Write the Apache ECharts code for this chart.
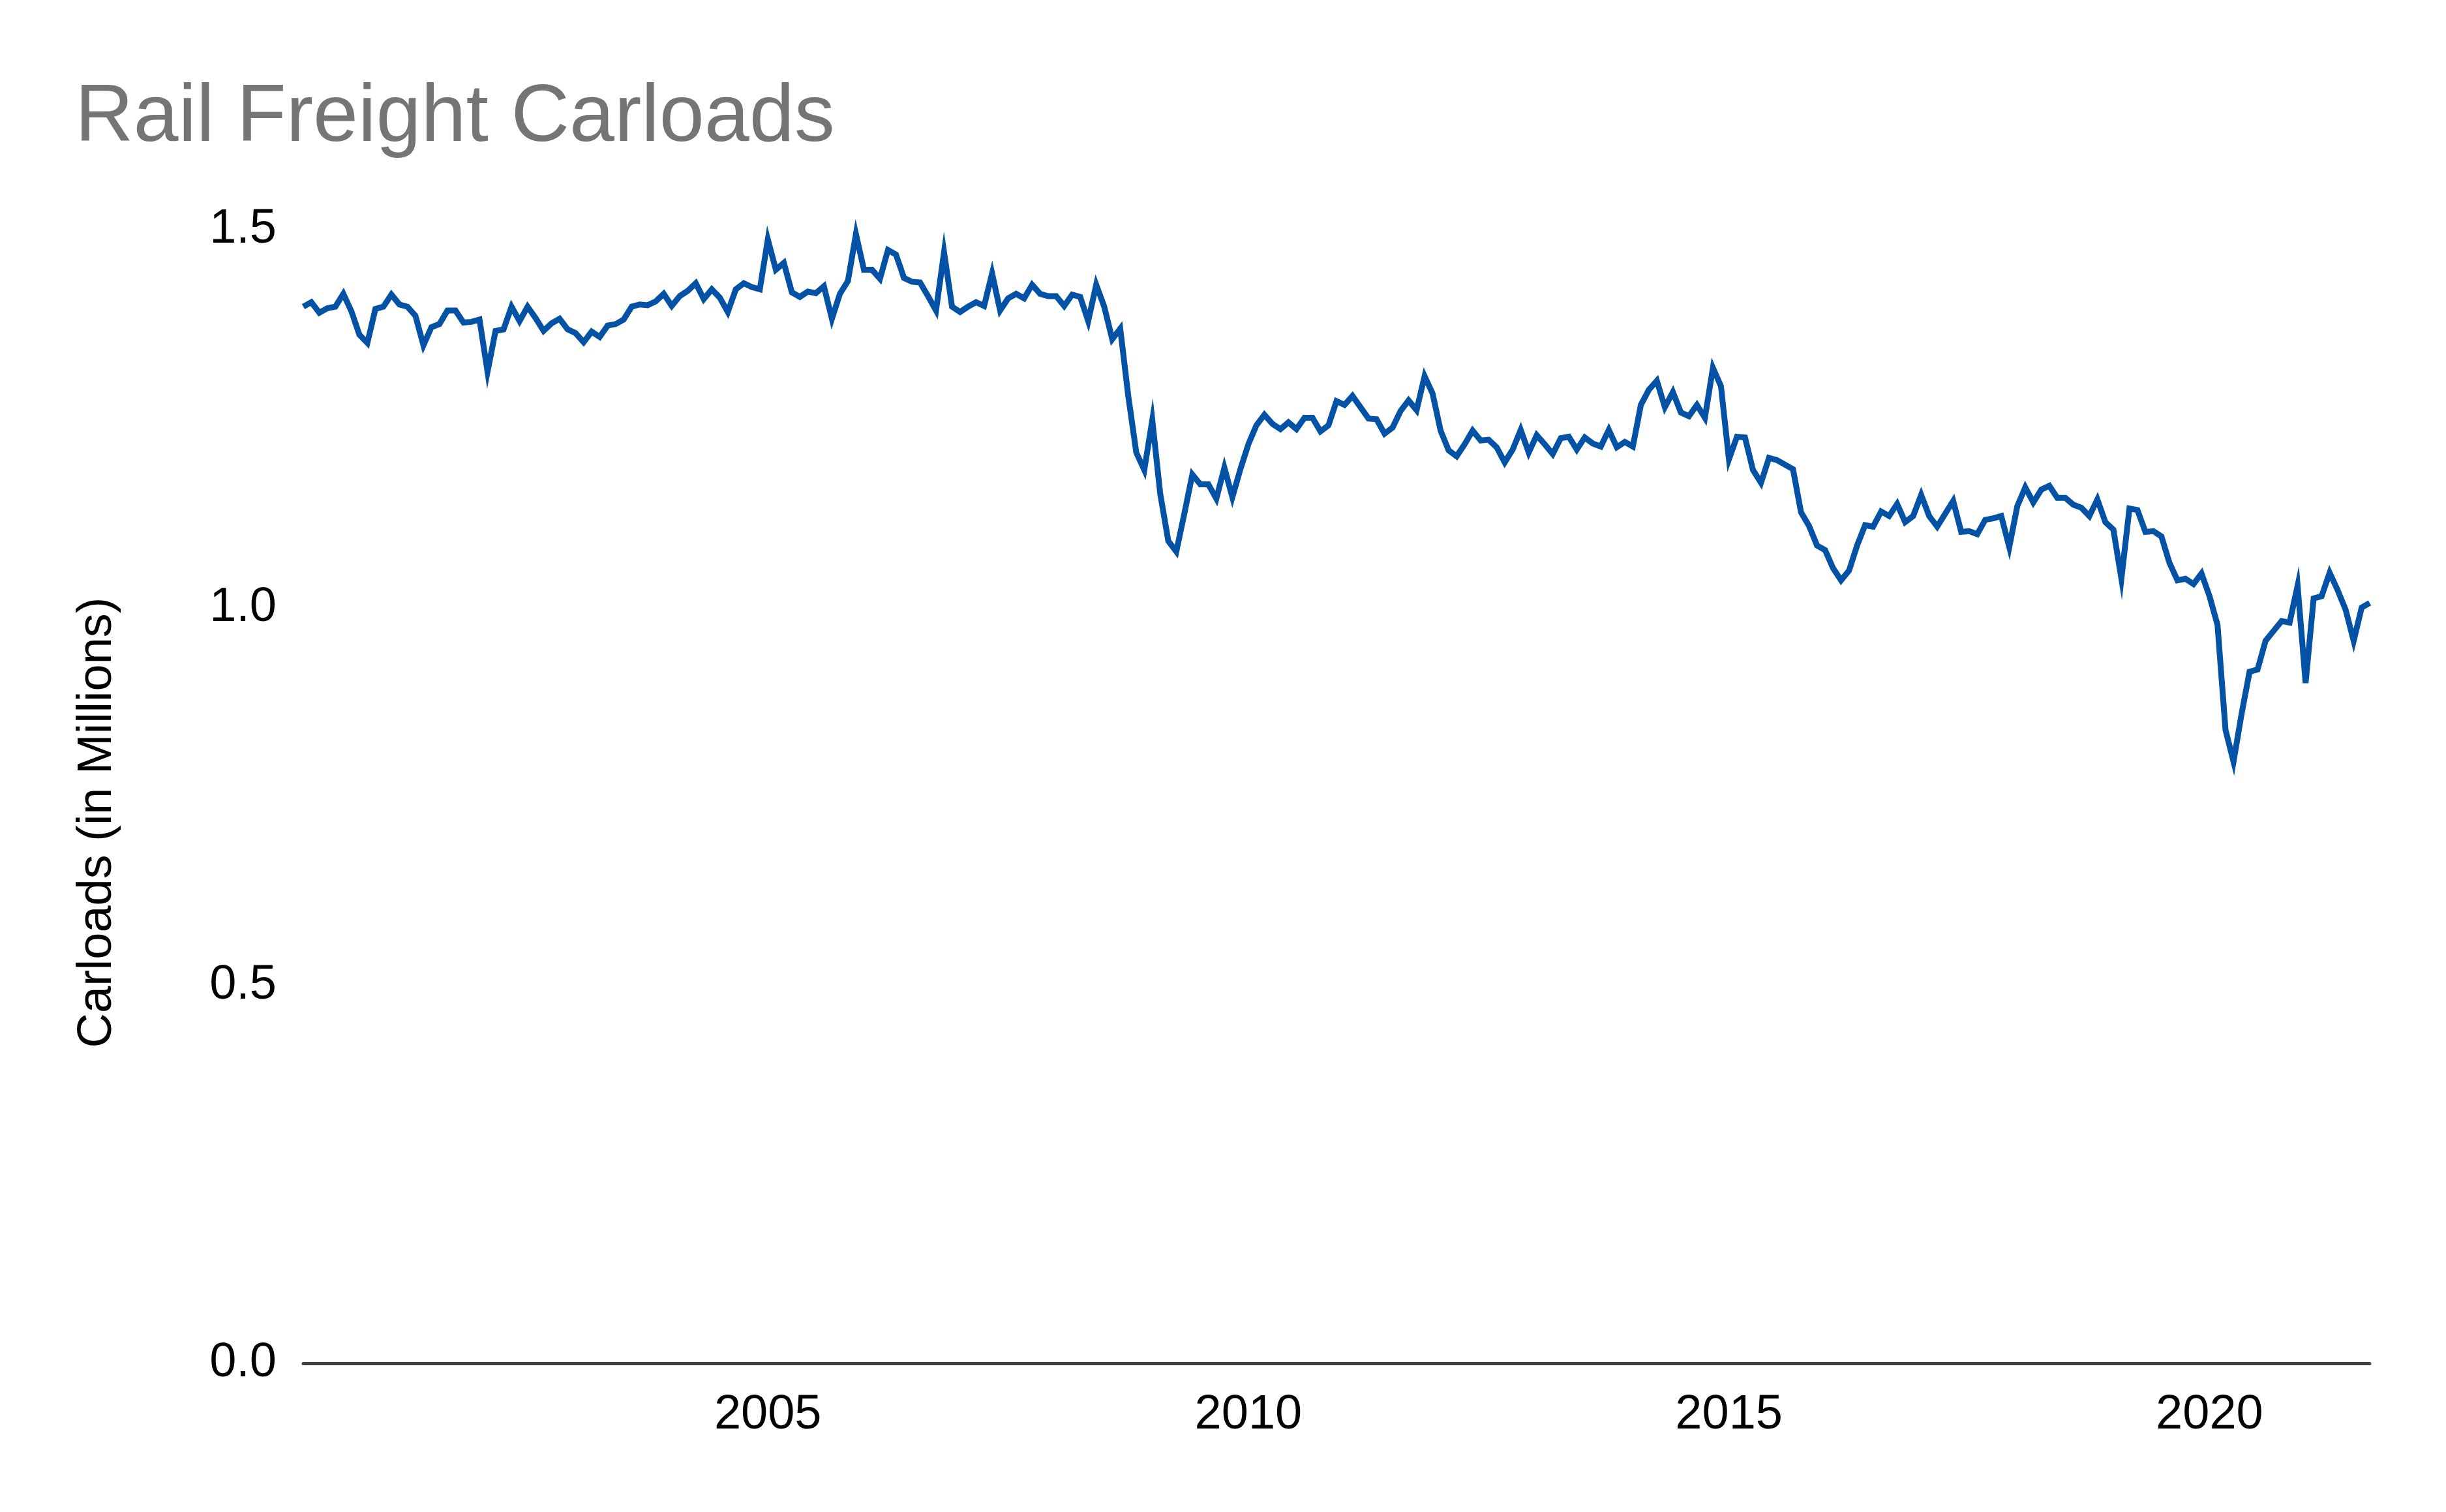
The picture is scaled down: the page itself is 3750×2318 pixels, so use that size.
<!DOCTYPE html>
<html>
<head>
<meta charset="utf-8">
<title>Rail Freight Carloads</title>
<script src="https://cdn.jsdelivr.net/npm/echarts@6.0.0/dist/echarts.min.js"></script>
<style>
	html, body { margin: 0; padding: 0; background: #fff; }
	#chart { width: 3750px; height: 2318px; }
</style>
</head>
<body>
<div id="chart"></div>
<script>
	// monthly series, first value is March 2000
	var startYear = 2000;
	var startMonth = 3;
	var carloads = [
		1.398, 1.404, 1.390, 1.396, 1.398, 1.415, 1.392, 1.361, 1.350, 1.395,
		1.398, 1.414, 1.401, 1.398, 1.386, 1.347, 1.371, 1.375, 1.393, 1.393,
		1.377, 1.378, 1.381, 1.312, 1.366, 1.368, 1.398, 1.379, 1.398, 1.383,
		1.366, 1.376, 1.382, 1.368, 1.363, 1.351, 1.365, 1.358, 1.373, 1.375,
		1.381, 1.398, 1.401, 1.400, 1.405, 1.415, 1.399, 1.412, 1.419, 1.429,
		1.408, 1.421, 1.410, 1.391, 1.421, 1.429, 1.424, 1.421, 1.487, 1.447,
		1.456, 1.417, 1.411, 1.418, 1.416, 1.425, 1.382, 1.415, 1.432, 1.494,
		1.447, 1.447, 1.435, 1.473, 1.467, 1.436, 1.431, 1.430, 1.412, 1.393,
		1.470, 1.398, 1.391, 1.398, 1.404, 1.399, 1.442, 1.393, 1.409, 1.415,
		1.409, 1.427, 1.415, 1.412, 1.412, 1.399, 1.414, 1.411, 1.379, 1.427,
		1.398, 1.355, 1.369, 1.280, 1.205, 1.182, 1.248, 1.150, 1.088, 1.074,
		1.124, 1.176, 1.163, 1.163, 1.144, 1.185, 1.146, 1.183, 1.216, 1.241,
		1.255, 1.243, 1.236, 1.245, 1.236, 1.251, 1.251, 1.233, 1.241, 1.273,
		1.268, 1.280, 1.265, 1.250, 1.249, 1.230, 1.238, 1.260, 1.274, 1.261,
		1.306, 1.283, 1.234, 1.208, 1.200, 1.216, 1.234, 1.221, 1.222, 1.212,
		1.192, 1.209, 1.235, 1.205, 1.228, 1.216, 1.203, 1.224, 1.226, 1.209,
		1.225, 1.217, 1.213, 1.235, 1.212, 1.219, 1.213, 1.268, 1.288, 1.300,
		1.265, 1.285, 1.258, 1.253, 1.268, 1.251, 1.317, 1.293, 1.196, 1.226,
		1.225, 1.182, 1.165, 1.198, 1.195, 1.189, 1.183, 1.126, 1.108, 1.082,
		1.076, 1.052, 1.036, 1.049, 1.082, 1.109, 1.107, 1.127, 1.121, 1.137,
		1.113, 1.121, 1.149, 1.121, 1.107, 1.124, 1.141, 1.100, 1.101, 1.097,
		1.116, 1.118, 1.121, 1.080, 1.134, 1.159, 1.139, 1.156, 1.161, 1.145,
		1.145, 1.136, 1.132, 1.121, 1.143, 1.113, 1.103, 1.038, 1.131, 1.129,
		1.100, 1.101, 1.094, 1.059, 1.036, 1.038, 1.031, 1.045, 1.015, 0.977,
		0.838, 0.796, 0.859, 0.915, 0.918, 0.956, 0.969, 0.982, 0.980, 1.029,
		0.900, 1.012, 1.015, 1.046, 1.023, 0.997, 0.956, 1.000, 1.006
	];
	var yearLabels = [2005, 2010, 2015, 2020];

	var font = "'Liberation Sans', Arial, sans-serif";

	// month index -> decimal year (January = .0)
	function monthYear(i) {
		return startYear + (startMonth - 1 + i) / 12;
	}

	var seriesData = [];
	for (var i = 0; i < carloads.length; i++) {
		seriesData.push([monthYear(i), carloads[i]]);
	}

	var myChart = echarts.init(document.getElementById('chart'));

	var option = {
		backgroundColor : '#ffffff',
		animation : false,
		title : {
			text : 'Rail Freight Carloads',
			left : 115,
			top : 120,
			padding : 0,
			textStyle : {
				fontFamily : font,
				fontSize : 124,
				fontWeight : 'normal',
				color : '#757575'
			}
		},
		grid : {
			left : 465,
			right : 117,
			top : 352,
			bottom : 228
		},
		xAxis : {
			type : 'value',
			min : seriesData[0][0],
			max : seriesData[seriesData.length - 1][0],
			axisLine : {
				show : true,
				lineStyle : {
					color : '#404040',
					width : 5
				}
			},
			axisTick : { show : false },
			splitLine : { show : false },
			axisLabel : {
				customValues : yearLabels,
				margin : 43,
				fontFamily : font,
				fontSize : 74,
				color : '#000000',
				formatter : function(v) {
					return Math.round(v) + '';
				}
			}
		},
		yAxis : {
			type : 'value',
			min : 0,
			max : 1.5,
			interval : 0.5,
			axisLine : { show : false },
			axisTick : { show : false },
			splitLine : { show : false },
			axisLabel : {
				margin : 41,
				padding : [8, 0, 0, 0],
				fontFamily : font,
				fontSize : 74,
				color : '#000000',
				formatter : function(v) {
					return v.toFixed(1);
				}
			}
		},
		graphic : [ {
			type : 'text',
			x : 150,
			y : 1261,
			rotation : Math.PI / 2,
			style : {
				text : 'Carloads (in Millions)',
				font : '74px ' + font,
				fill : '#000000',
				align : 'center',
				verticalAlign : 'middle'
			}
		} ],
		series : [ {
			type : 'line',
			data : seriesData,
			showSymbol : false,
			clip : false,
			lineStyle : {
				color : '#0352a5',
				width : 9,
				join : 'miter'
			}
		} ]
	};
	myChart.setOption(option);
</script>
</body>
</html>
